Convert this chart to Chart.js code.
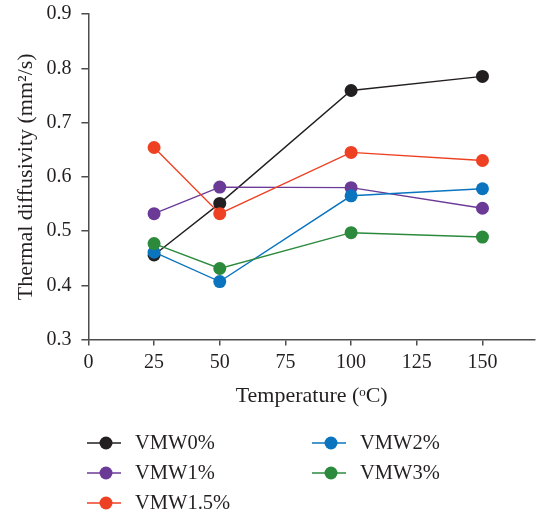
<!DOCTYPE html>
<html>
<head>
<meta charset="utf-8">
<script src="https://cdn.jsdelivr.net/npm/chart.js@4/dist/chart.umd.min.js"></script>
<style>
  html, body { margin: 0; padding: 0; background: #fff; }
</style>
</head>
<body>
<canvas id="chart" width="536" height="515"></canvas>
<script>
// temperatures (°C)
const temps = [25, 50, 100, 150];

// thermal diffusivity (mm2/s)
const vmw0 = [0.456, 0.551, 0.759, 0.785];
const vmw1 = [0.532, 0.581, 0.580, 0.542];
const vmw15 = [0.654, 0.532, 0.645, 0.630];
const vmw2 = [0.461, 0.407, 0.565, 0.578];
const vmw3 = [0.477, 0.431, 0.497, 0.489];

const names = ['VMW0%', 'VMW1%', 'VMW1.5%', 'VMW2%', 'VMW3%'];
const colors = ['#231f20', '#6b3a97', '#ee4123', '#0a74bf', '#2b8a3c'];

const xTicks = [0, 25, 50, 75, 100, 125, 150];

const font = '"Liberation Serif", "Times New Roman", serif';
const textColor = '#231f20';
const axisColor = '#4d4d4d';

function series(vals, i) {
  return {
    label: names[i],
    data: temps.map((t, k) => ({ x: t, y: vals[k] })),
    borderColor: colors[i],
    backgroundColor: colors[i],
    borderWidth: 1.4,
    pointRadius: 6.5,
    pointHoverRadius: 6.5,
    pointBorderWidth: 0,
    tension: 0,
    order: 5 - i
  };
}

// legend: line with a dot, two columns, three rows
const legendPlugin = {
  id: 'lineDotLegend',
  afterDraw(chart) {
    const ctx = chart.ctx;
    const colX = [87, 312];
    const rowY = [443, 473, 503];
    ctx.save();
    chart.data.datasets.forEach((ds, i) => {
      const x = colX[Math.floor(i / 3)];
      const y = rowY[i % 3];
      ctx.strokeStyle = ds.borderColor;
      ctx.lineWidth = 1.4;
      ctx.beginPath();
      ctx.moveTo(x, y);
      ctx.lineTo(x + 34, y);
      ctx.stroke();
      ctx.fillStyle = ds.backgroundColor;
      ctx.beginPath();
      ctx.arc(x + 19, y, 6.5, 0, Math.PI * 2);
      ctx.fill();
      ctx.fillStyle = textColor;
      ctx.font = '20.5px ' + font;
      ctx.textBaseline = 'middle';
      ctx.fillText(ds.label, x + 48, y + 1);
    });
    ctx.restore();
  }
};

new Chart(document.getElementById('chart'), {
  type: 'line',
  data: {
    datasets: [series(vmw0, 0), series(vmw1, 1), series(vmw15, 2), series(vmw2, 3), series(vmw3, 4)]
  },
  options: {
    responsive: false,
    animation: false,
    layout: { autoPadding: false, padding: { left: 13, right: 1, top: 2, bottom: 106 } },
    plugins: {
      legend: { display: false },
      tooltip: { enabled: false }
    },
    scales: {
      x: {
        type: 'linear',
        min: 0,
        max: 170,
        afterBuildTicks: axis => { axis.ticks = xTicks.map(v => ({ value: v })); },
        border: { color: axisColor, width: 1.5 },
        grid: { drawOnChartArea: false, drawTicks: true, tickLength: 6, color: axisColor, lineWidth: 1.5 },
        ticks: { color: textColor, font: { family: font, size: 20 }, padding: 5, maxRotation: 0 },
        title: {
          display: true,
          text: 'Temperature (ᵒC)',
          color: textColor,
          font: { family: font, size: 22 },
          padding: { top: 3, bottom: 0 }
        }
      },
      y: {
        min: 0.3,
        max: 0.9,
        ticks: {
          stepSize: 0.1,
          color: textColor,
          font: { family: font, size: 20, lineHeight: 0.4 },
          padding: 10,
          callback: v => v.toFixed(1)
        },
        border: { color: axisColor, width: 1.5 },
        grid: { drawOnChartArea: false, drawTicks: true, tickLength: 7, color: axisColor, lineWidth: 1.5 },
        title: {
          display: true,
          text: 'Thermal diffusivity (mm²/s)',
          color: textColor,
          font: { family: font, size: 22 },
          padding: { top: 0, bottom: -3 }
        }
      }
    }
  },
  plugins: [legendPlugin]
});
</script>
</body>
</html>
